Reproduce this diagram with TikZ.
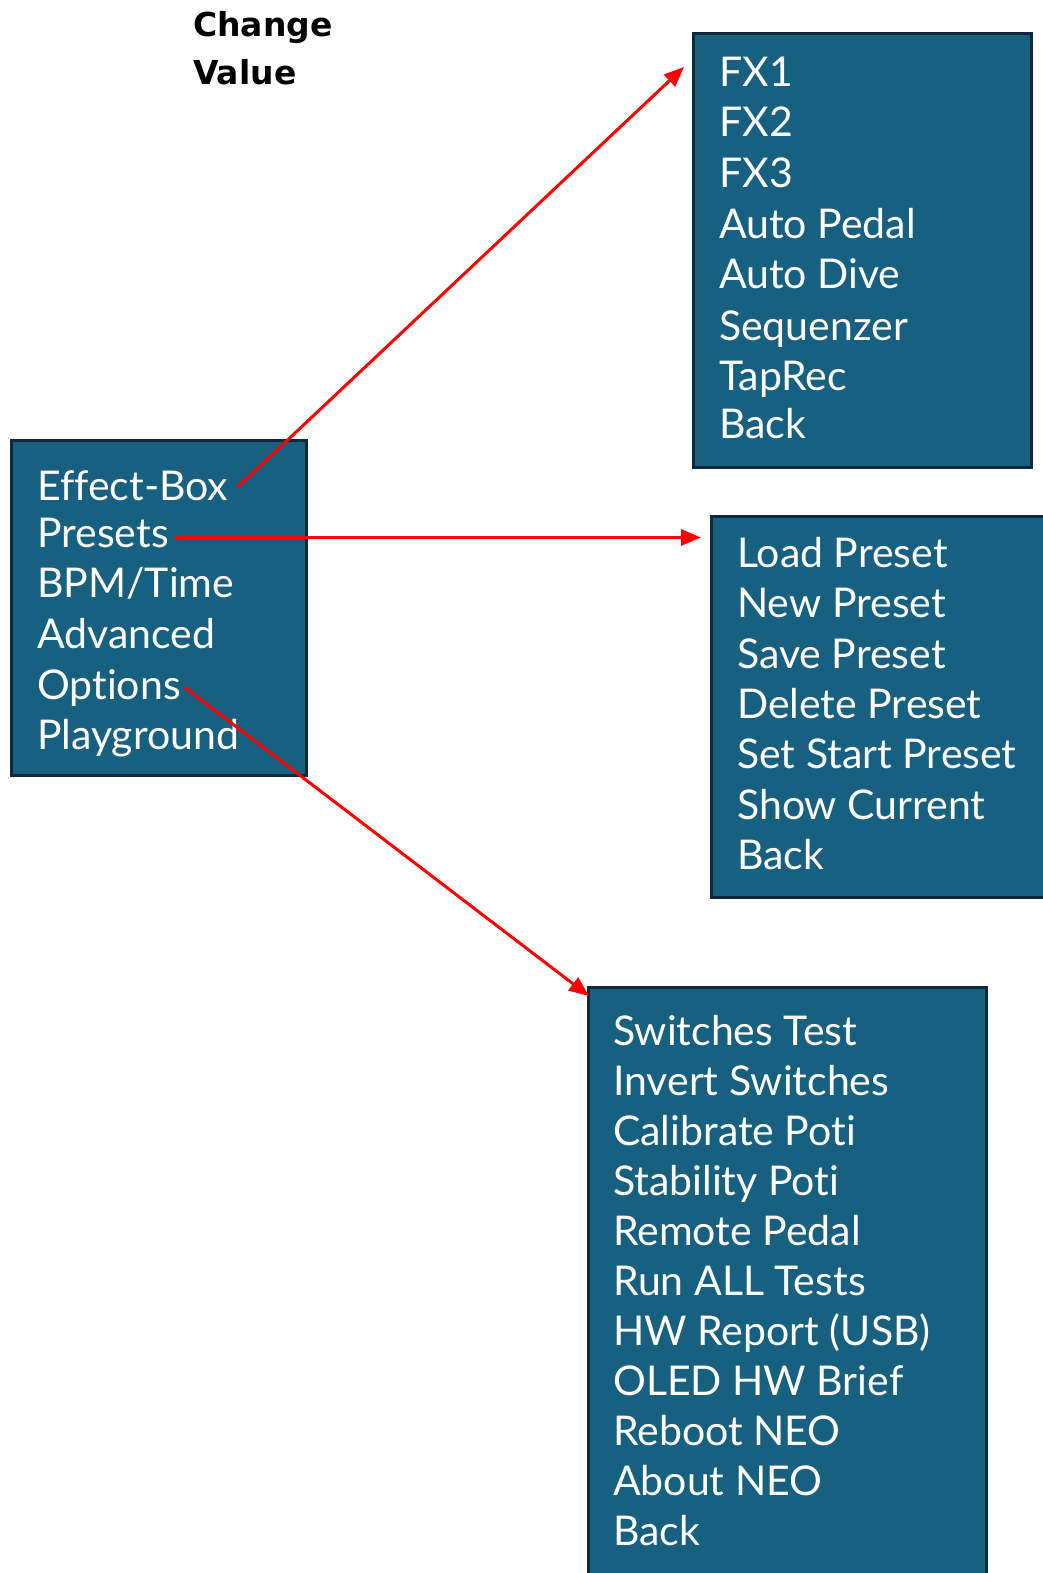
\documentclass[tikz,border=0pt]{standalone}
\usepackage{fontspec}
\setmainfont[RawFeature={-liga;-clig;-dlig}]{Lato}
\newfontfamily\titlefont{DejaVu Sans}
\usetikzlibrary{arrows.meta}
\definecolor{boxfill}{RGB}{24,96,128}
\definecolor{boxline}{RGB}{12,42,60}
\definecolor{linkred}{RGB}{255,0,0}
\tikzset{
  menubox/.style={draw=boxline, line width=3pt, fill=boxfill, inner sep=0pt, anchor=north west},
  item/.style={anchor=base west, inner sep=1pt, text=white, font=\fontsize{41}{50}\selectfont},
  heading/.style={anchor=base west, inner sep=0pt, font=\titlefont\bfseries\fontsize{33}{40}\selectfont},
  link/.style={draw=linkred, line width=3pt, -{Triangle[length=20pt,width=16pt]}}
}
\begin{document}
\begin{tikzpicture}[x=1pt,y=-1pt]
\useasboundingbox (0,0) rectangle (1043,1573);
\node[heading] (title1) at (193,37) {Change};
\node[heading] (title2) at (193,85) {Value};
% main menu
\node[menubox, minimum width=295pt, minimum height=335pt] (m0) at (10,439) {};
\node[item] (m0r0) at (36,500) {Effect-Box};
\node[item] (m0r1) at (36,547) {Presets};
\node[item] (m0r2) at (36,597) {BPM/Time};
\node[item] (m0r3) at (36,648) {Advanced};
\node[item] (m0r4) at (36,699) {Options};
\node[item] (m0r5) at (36,749) {Playground};
% effect box menu
\node[menubox, minimum width=338pt, minimum height=434pt] (m1) at (692,32) {};
\node[item] (m1r0) at (718,87) {FX1};
\node[item] (m1r1) at (718,137) {FX2};
\node[item] (m1r2) at (718,187) {FX3};
\node[item] (m1r3) at (718,238) {Auto Pedal};
\node[item] (m1r4) at (718,288) {Auto Dive};
\node[item] (m1r5) at (718,340) {Sequenzer};
\node[item] (m1r6) at (718,390) {TapRec};
\node[item] (m1r7) at (718,438) {Back};
% presets menu
\node[menubox, minimum width=360pt, minimum height=381pt] (m2) at (710,515) {};
\node[item] (m2r0) at (736,567) {Load Preset};
\node[item] (m2r1) at (736,617) {New Preset};
\node[item] (m2r2) at (736,668) {Save Preset};
\node[item] (m2r3) at (736,718) {Delete Preset};
\node[item] (m2r4) at (736,768) {Set Start Preset};
\node[item] (m2r5) at (736,819) {Show Current};
\node[item] (m2r6) at (736,869) {Back};
% options menu
\node[menubox, minimum width=398pt, minimum height=620pt] (m3) at (587,986) {};
\node[item] (m3r0) at (612,1045) {Switches Test};
\node[item] (m3r1) at (612,1095) {Invert Switches};
\node[item] (m3r2) at (612,1145) {Calibrate Poti};
\node[item] (m3r3) at (612,1195) {Stability Poti};
\node[item] (m3r4) at (612,1245) {Remote Pedal};
\node[item] (m3r5) at (612,1295) {Run ALL Tests};
\node[item] (m3r6) at (612,1345) {HW Report (USB)};
\node[item] (m3r7) at (612,1395) {OLED HW Brief};
\node[item] (m3r8) at (612,1445) {Reboot NEO};
\node[item] (m3r9) at (612,1495) {About NEO};
\node[item] (m3r10) at (612,1545) {Back};
% arrow ends
\coordinate (m1in) at (684,67);
\coordinate (m2in) at (701,536);
\coordinate (m3in) at (589,996);
\draw[link] ([xshift=8pt,yshift=-2pt]m0r0.east) to (m1in);
\draw[link] ([xshift=5pt,yshift=-5pt]m0r1.east) to ([yshift=-5pt]m0r1.east -| m2in);
\draw[link] ([xshift=3pt]m0r4.east) to (m3in);
\end{tikzpicture}
\end{document}
